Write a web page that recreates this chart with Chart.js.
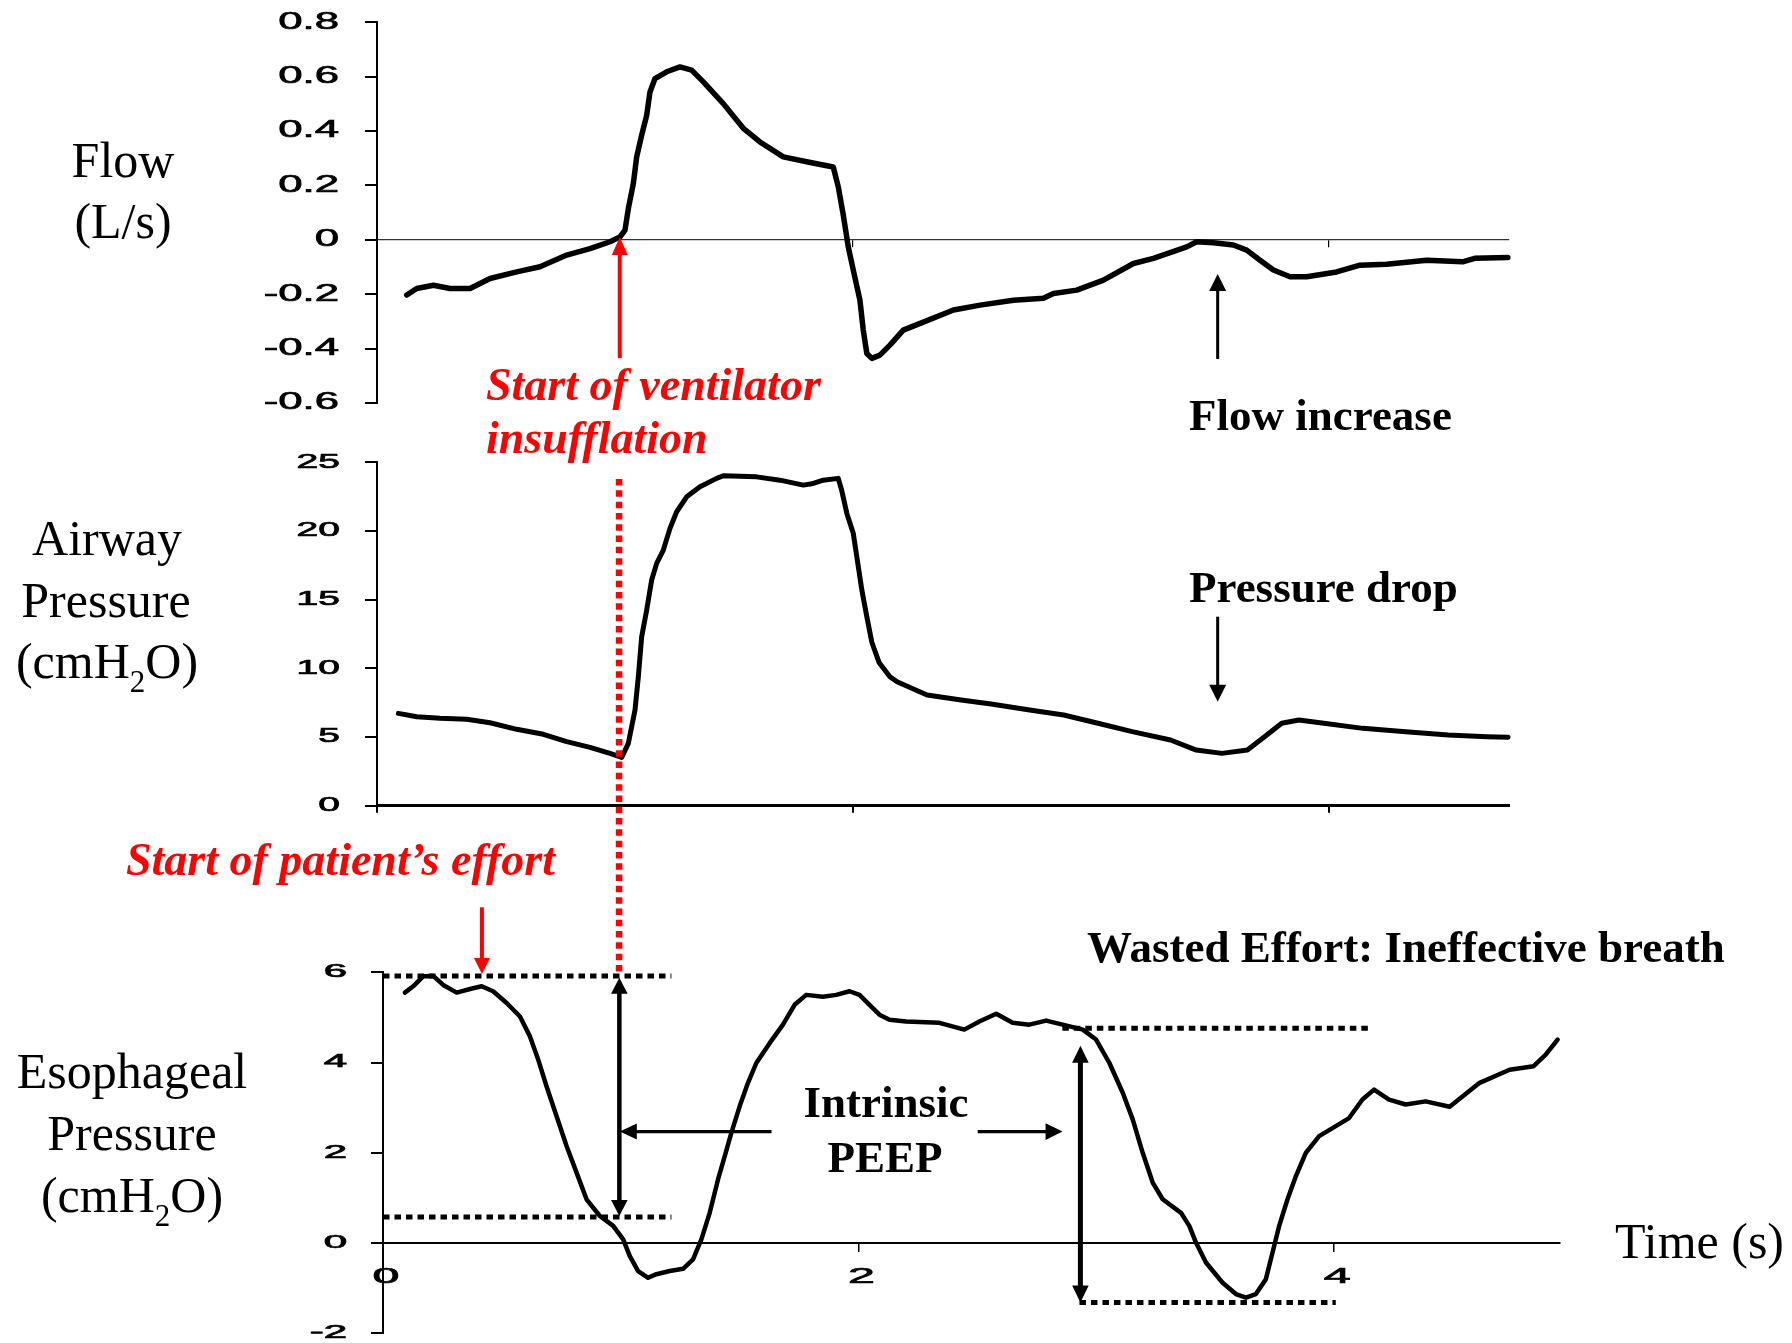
<!DOCTYPE html>
<html>
<head>
<meta charset="utf-8">
<script src="https://cdn.jsdelivr.net/npm/chart.js@4.4.1/dist/chart.umd.min.js"></script>
<style>
  html, body { margin: 0; padding: 0; background: #fff; }
  #wrap { position: relative; width: 1792px; height: 1343px; overflow: hidden; }
  #wrap canvas { position: absolute; left: 0; top: 0; }
</style>
</head>
<body>
<div id="wrap">
  <canvas id="flowChart" width="1792" height="1343"></canvas>
  <canvas id="pawChart" width="1792" height="1343"></canvas>
  <canvas id="pesChart" width="1792" height="1343"></canvas>
</div>
<script>
// flow trace (s, L/s)
const flowTime = [0.125,0.167,0.237,0.307,0.391,0.475,0.587,0.685,0.797,0.895,0.979,1.021,1.042,1.056,1.077,1.091,1.112,1.133,1.147,1.168,1.217,1.273,1.322,1.371,1.455,1.539,1.609,1.707,1.805,1.917,1.938,1.959,1.980,2.001,2.029,2.043,2.058,2.079,2.113,2.155,2.211,2.282,2.422,2.534,2.674,2.800,2.842,2.940,3.052,3.178,3.262,3.402,3.444,3.514,3.598,3.654,3.710,3.766,3.836,3.906,4.032,4.130,4.242,4.410,4.561,4.612,4.751];
const flowValues = [-0.203,-0.179,-0.167,-0.179,-0.179,-0.142,-0.118,-0.099,-0.056,-0.032,-0.007,0.011,0.036,0.115,0.207,0.305,0.385,0.458,0.544,0.593,0.618,0.636,0.624,0.581,0.501,0.410,0.360,0.305,0.287,0.268,0.195,0.091,-0.026,-0.111,-0.222,-0.332,-0.418,-0.436,-0.424,-0.387,-0.332,-0.307,-0.258,-0.240,-0.222,-0.215,-0.197,-0.185,-0.148,-0.087,-0.068,-0.026,-0.007,-0.011,-0.019,-0.038,-0.075,-0.111,-0.136,-0.136,-0.118,-0.093,-0.090,-0.075,-0.081,-0.068,-0.065];

// airway pressure trace (s, cmH2O)
const pawTime = [0.090,0.167,0.265,0.377,0.475,0.587,0.699,0.797,0.895,0.979,1.028,1.056,1.084,1.098,1.112,1.133,1.154,1.175,1.203,1.231,1.259,1.301,1.357,1.427,1.455,1.595,1.693,1.791,1.833,1.875,1.938,1.952,1.974,2.001,2.016,2.037,2.058,2.079,2.110,2.155,2.185,2.311,2.454,2.580,2.742,2.885,3.029,3.173,3.334,3.442,3.550,3.657,3.729,3.801,3.873,3.962,4.142,4.322,4.501,4.663,4.752];
const pawValues = [6.72,6.48,6.36,6.29,6.04,5.56,5.20,4.66,4.25,3.81,3.52,4.54,6.97,9.39,12.30,14.24,16.43,17.64,18.61,20.19,21.40,22.49,23.22,23.83,24.02,23.94,23.70,23.34,23.46,23.70,23.83,22.98,21.28,19.83,18.12,15.70,13.76,11.90,10.40,9.39,9.02,8.06,7.69,7.40,6.97,6.60,6.00,5.39,4.78,4.05,3.81,4.05,5.02,6.00,6.24,6.04,5.63,5.39,5.15,5.02,4.98];

// esophageal pressure trace (s, cmH2O)
const pesTime = [0.092,0.127,0.169,0.211,0.253,0.310,0.366,0.415,0.463,0.520,0.576,0.618,0.653,0.688,0.730,0.772,0.814,0.856,0.912,0.968,1.010,1.038,1.073,1.115,1.150,1.206,1.262,1.304,1.339,1.374,1.409,1.437,1.465,1.500,1.535,1.570,1.626,1.682,1.731,1.780,1.850,1.906,1.962,2.004,2.046,2.088,2.130,2.200,2.340,2.445,2.508,2.579,2.648,2.718,2.789,2.858,2.943,2.999,3.055,3.111,3.153,3.195,3.237,3.279,3.356,3.391,3.419,3.461,3.531,3.587,3.629,3.671,3.713,3.741,3.769,3.804,3.839,3.881,3.937,4.007,4.063,4.119,4.168,4.231,4.301,4.385,4.486,4.612,4.738,4.839,4.889,4.940];
const pesValues = [5.55,5.69,5.91,5.92,5.72,5.55,5.63,5.69,5.58,5.32,5.02,4.58,4.06,3.47,2.81,2.15,1.56,0.97,0.60,0.38,0.08,-0.29,-0.62,-0.77,-0.69,-0.62,-0.57,-0.36,0.08,0.67,1.41,1.92,2.44,3.03,3.55,3.99,4.43,4.84,5.28,5.50,5.46,5.50,5.58,5.50,5.28,5.06,4.95,4.91,4.88,4.73,4.91,5.08,4.88,4.84,4.93,4.84,4.73,4.51,3.99,3.33,2.74,2.00,1.34,0.97,0.67,0.38,0.01,-0.43,-0.88,-1.13,-1.21,-1.13,-0.80,-0.21,0.38,0.97,1.48,2.00,2.37,2.59,2.77,3.18,3.40,3.18,3.07,3.14,3.02,3.55,3.84,3.92,4.17,4.51];

// ticks
const flowTicks = [-0.6, -0.4, -0.2, 0, 0.2, 0.4, 0.6, 0.8];
const flowTickLabels = ['-0.6', '-0.4', '-0.2', '0', '0.2', '0.4', '0.6', '0.8'];
const pawTicks = [0, 5, 10, 15, 20, 25];
const pawTickLabels = ['0', '5', '10', '15', '20', '25'];
const pesTicks = [-2, 0, 2, 4, 6];
const pesTickLabels = ['-2', '0', '2', '4', '6'];
const timeTicks = [0, 2, 4];
const timeTickLabels = ['0', '2', '4'];

const SERIF = '"Liberation Serif", "Times New Roman", serif';
const SANS = '"Liberation Sans", Arial, sans-serif';
const W = 1792, H = 1343;
const charts = {};

const series = (t, v) => t.map((x, i) => ({ x: x, y: v[i] }));

// tick labels in the original are drawn wide, so stretch them horizontally
function wideText(ctx, text, x, y, size, sx, align) {
  ctx.save();
  ctx.translate(x, y);
  ctx.scale(sx, 1);
  ctx.font = size + 'px ' + SANS;
  ctx.fillStyle = '#000';
  ctx.strokeStyle = '#000';
  ctx.lineWidth = 0.7;
  ctx.textAlign = align;
  ctx.textBaseline = 'middle';
  ctx.fillText(text, 0, 0);
  ctx.strokeText(text, 0, 0);
  ctx.restore();
}

function tickLabelPlugin(cfg) {
  return {
    id: 'tickLabels',
    afterDraw(chart) {
      const ctx = chart.ctx;
      const ys = chart.scales.y, xs = chart.scales.x;
      cfg.yValues.forEach((v, i) => {
        wideText(ctx, cfg.yLabels[i], chart.chartArea.left - cfg.yGap, ys.getPixelForValue(v), cfg.ySize, cfg.ySx, 'right');
      });
      if (cfg.xLabels) {
        const y0 = ys.getPixelForValue(0);
        timeTicks.forEach((v, i) => {
          wideText(ctx, cfg.xLabels[i], xs.getPixelForValue(v) + 3, y0 + cfg.xGap, cfg.xSize, cfg.xSx, 'center');
        });
      }
    }
  };
}

function makePanel(id, rect, xMax, data, yMin, yMax, yTicks, lineWidth, xAxis, plugins) {
  return new Chart(document.getElementById(id), {
    type: 'line',
    data: {
      datasets: [{
        data: data,
        borderColor: '#000',
        borderWidth: lineWidth,
        pointRadius: 0,
        tension: 0,
        fill: false,
        clip: false,
        borderJoinStyle: 'round',
        borderCapStyle: 'round'
      }]
    },
    options: {
      responsive: false,
      animation: false,
      events: [],
      layout: { padding: { left: rect.left, top: rect.top, right: W - rect.right, bottom: H - rect.bottom } },
      plugins: { legend: { display: false }, tooltip: { enabled: false } },
      scales: {
        x: {
          type: 'linear',
          min: 0,
          max: xMax,
          position: xAxis.position,
          afterBuildTicks: (s) => { s.ticks = timeTicks.map(v => ({ value: v })); },
          afterFit: (s) => { s.height = 0; },
          ticks: { display: false },
          grid: { drawOnChartArea: false, drawTicks: true, tickLength: xAxis.tickLength, color: '#000', lineWidth: xAxis.tickWidth },
          border: { display: true, color: xAxis.color, width: xAxis.width }
        },
        y: {
          type: 'linear',
          min: yMin,
          max: yMax,
          position: 'left',
          afterBuildTicks: (s) => { s.ticks = yTicks.map(v => ({ value: v })); },
          afterFit: (s) => { s.width = 0; },
          ticks: { display: false },
          grid: { drawOnChartArea: false, drawTicks: true, tickLength: 12, color: '#000', lineWidth: 2 },
          border: { display: true, color: '#000', width: 2 }
        }
      }
    },
    plugins: plugins
  });
}

// drawing helpers for the annotations
function head(ctx, tx, ty, ux, uy, len, half) {
  const bx = tx - ux * len, by = ty - uy * len;
  ctx.beginPath();
  ctx.moveTo(tx, ty);
  ctx.lineTo(bx - uy * half, by + ux * half);
  ctx.lineTo(bx + uy * half, by - ux * half);
  ctx.closePath();
  ctx.fill();
}

function arrow(ctx, x1, y1, x2, y2, o) {
  const d = Math.hypot(x2 - x1, y2 - y1);
  const ux = (x2 - x1) / d, uy = (y2 - y1) / d;
  ctx.save();
  ctx.strokeStyle = o.color;
  ctx.fillStyle = o.color;
  ctx.lineWidth = o.width;
  ctx.lineCap = 'butt';
  ctx.beginPath();
  ctx.moveTo(o.both ? x1 + ux * o.len * 0.8 : x1, o.both ? y1 + uy * o.len * 0.8 : y1);
  ctx.lineTo(x2 - ux * o.len * 0.8, y2 - uy * o.len * 0.8);
  ctx.stroke();
  head(ctx, x2, y2, ux, uy, o.len, o.half);
  if (o.both) head(ctx, x1, y1, -ux, -uy, o.len, o.half);
  ctx.restore();
}

function dotted(ctx, x1, y1, x2, y2, width, dash, gap, color) {
  ctx.save();
  ctx.strokeStyle = color;
  ctx.lineWidth = width;
  ctx.lineCap = 'butt';
  ctx.setLineDash([dash, gap]);
  ctx.beginPath();
  ctx.moveTo(x1, y1);
  ctx.lineTo(x2, y2);
  ctx.stroke();
  ctx.restore();
}

function text(ctx, str, x, y, font, color, align) {
  ctx.save();
  ctx.font = font;
  ctx.fillStyle = color;
  ctx.textAlign = align || 'left';
  ctx.textBaseline = 'alphabetic';
  ctx.fillText(str, x, y);
  ctx.restore();
}

function cmH2O(ctx, cx, base) {
  const big = '50px ' + SERIF, small = '31px ' + SERIF;
  ctx.save();
  ctx.fillStyle = '#000';
  ctx.textAlign = 'left';
  ctx.textBaseline = 'alphabetic';
  ctx.font = big;
  const w1 = ctx.measureText('(cmH').width, w3 = ctx.measureText('O)').width;
  ctx.font = small;
  const w2 = ctx.measureText('2').width;
  let x = cx - (w1 + w2 + w3) / 2;
  ctx.font = big; ctx.fillText('(cmH', x, base); x += w1;
  ctx.font = small; ctx.fillText('2', x, base + 14); x += w2;
  ctx.font = big; ctx.fillText('O)', x, base);
  ctx.restore();
}

const annotations = {
  id: 'annotations',
  afterDraw(chart) {
    const ctx = chart.ctx;
    const f = charts.flow, p = charts.paw, e = chart;
    const fx = v => f.scales.x.getPixelForValue(v), fy = v => f.scales.y.getPixelForValue(v);
    const px = v => p.scales.x.getPixelForValue(v), py = v => p.scales.y.getPixelForValue(v);
    const ex = v => e.scales.x.getPixelForValue(v), ey = v => e.scales.y.getPixelForValue(v);
    const RED = '#ff0000';

    // axis titles
    const reg = '50px ' + SERIF;
    text(ctx, 'Flow', 123, 177, reg, '#000', 'center');
    text(ctx, '(L/s)', 123, 238, reg, '#000', 'center');
    text(ctx, 'Airway', 107, 555, reg, '#000', 'center');
    text(ctx, 'Pressure', 106, 617, reg, '#000', 'center');
    cmH2O(ctx, 107, 678);
    text(ctx, 'Esophageal', 132, 1088, reg, '#000', 'center');
    text(ctx, 'Pressure', 132, 1150, reg, '#000', 'center');
    cmH2O(ctx, 132, 1212);
    text(ctx, 'Time (s)', 1615, 1258, reg, '#000', 'left');

    // ventilator insufflation marker
    arrow(ctx, fx(1.02), fy(-0.435), fx(1.02), fy(0.01), { color: RED, width: 4, len: 18, half: 8 });
    dotted(ctx, px(1.017), py(23.78), px(1.017), ey(5.96), 6.5, 6.5, 4.8, RED);
    const redFont = 'italic bold 46px ' + SERIF;
    text(ctx, 'Start of ventilator', 486, 400, redFont, RED);
    text(ctx, 'insufflation', 486, 453, redFont, RED);

    // flow increase / pressure drop
    arrow(ctx, fx(3.532), fy(-0.438), fx(3.532), fy(-0.126), { color: '#000', width: 3, len: 17, half: 8.5 });
    arrow(ctx, px(3.532), py(13.76), px(3.532), py(7.57), { color: '#000', width: 3, len: 17, half: 8.5 });
    const bold = 'bold 45px ' + SERIF;
    text(ctx, 'Flow increase', 1189, 430, bold, '#000');
    text(ctx, 'Pressure drop', 1189, 602, bold, '#000');

    // patient's effort
    arrow(ctx, ex(0.416), ey(7.44), ex(0.416), ey(5.96), { color: RED, width: 4, len: 16, half: 8 });
    text(ctx, 'Start of patient\u2019s effort', 126, 875, redFont, RED);

    // swings of esophageal pressure
    dotted(ctx, ex(0), ey(5.92), ex(1.213), ey(5.92), 5, 6.5, 5, '#000');
    dotted(ctx, ex(0), ey(0.58), ex(1.213), ey(0.58), 5, 6.5, 5, '#000');
    dotted(ctx, ex(2.857), ey(4.76), ex(4.154), ey(4.76), 5, 6.5, 5, '#000');
    dotted(ctx, ex(2.929), ey(-1.32), ex(4.007), ey(-1.32), 5, 6.5, 5, '#000');
    arrow(ctx, ex(0.994), ey(5.88), ex(0.994), ey(0.60), { color: '#000', width: 4.5, len: 16, half: 8.3, both: true });
    arrow(ctx, ex(2.933), ey(4.37), ex(2.933), ey(-1.32), { color: '#000', width: 5, len: 17, half: 8.3, both: true });
    arrow(ctx, ex(1.634), ey(2.47), ex(0.996), ey(2.47), { color: '#000', width: 3.2, len: 17, half: 8 });
    arrow(ctx, ex(2.501), ey(2.47), ex(2.858), ey(2.47), { color: '#000', width: 3.2, len: 17, half: 8.3 });
    text(ctx, 'Intrinsic', 886, 1117, bold, '#000', 'center');
    text(ctx, 'PEEP', 885, 1172, bold, '#000', 'center');
    text(ctx, 'Wasted Effort: Ineffective breath', 1087, 962, bold, '#000');
  }
};

charts.flow = makePanel('flowChart', { left: 377, top: 22.3, right: 1509, bottom: 403 }, 4.756,
  series(flowTime, flowValues), -0.6, 0.8, flowTicks, 5.5,
  { position: { y: 0 }, tickLength: 7, tickWidth: 1.2, color: '#333', width: 1.2 },
  [tickLabelPlugin({ yValues: flowTicks, yLabels: flowTickLabels, yGap: 38, ySize: 23, ySx: 1.9 })]);

charts.paw = makePanel('pawChart', { left: 377, top: 462.3, right: 1509, bottom: 805.7 }, 4.756,
  series(pawTime, pawValues), 0, 25, pawTicks, 5,
  { position: 'bottom', tickLength: 7, tickWidth: 2, color: '#000', width: 3 },
  [tickLabelPlugin({ yValues: pawTicks, yLabels: pawTickLabels, yGap: 37, ySize: 19.5, ySx: 2.0 })]);

charts.pes = makePanel('pesChart', { left: 383, top: 972.3, right: 1560, bottom: 1333.3 }, 4.95,
  series(pesTime, pesValues), -2, 6, pesTicks, 4.5,
  { position: { y: 0 }, tickLength: 8, tickWidth: 1.5, color: '#000', width: 2 },
  [tickLabelPlugin({ yValues: pesTicks, yLabels: pesTickLabels, yGap: 36, ySize: 17.5, ySx: 2.4,
    xLabels: timeTickLabels, xGap: 34, xSize: 22, xSx: 2.2 }), annotations]);
</script>
</body>
</html>
